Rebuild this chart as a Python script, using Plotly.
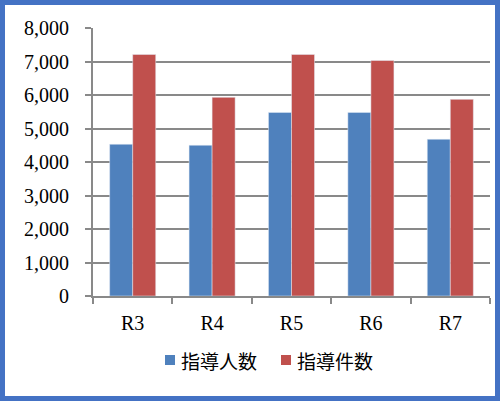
import plotly.graph_objects as go

# data
years = ["R3", "R4", "R5", "R6", "R7"]
people = [4530, 4500, 5480, 5480, 4680]
cases = [7210, 5930, 7210, 7030, 5870]
names = ["指導人数", "指導件数"]
colors = ["#4F81BD", "#C0504D"]

fig = go.Figure()
fig.add_trace(go.Bar(x=years, y=people, name=names[0], marker=dict(color=colors[0])))
fig.add_trace(go.Bar(x=years, y=cases, name=names[1], marker=dict(color=colors[1])))

# plot area: x 93..490, y 28..296 (px)
L, R, T, B = 93, 490, 28, 296
W, H = R - L, B - T

def px_x(p):
    return (p - L) / W

def px_y(p):
    return (B - p) / H

# border round the whole chart
shapes = [dict(
    type="rect", xref="paper", yref="paper",
    x0=px_x(2.5), x1=px_x(497.5), y0=px_y(398.5), y1=px_y(2.5),
    line=dict(color="#4472C4", width=5),
    layer="above",
)]
annotations = []

# hand-made legend
for sq_x, name, col in zip([165, 281], names, colors):
    shapes.append(dict(
        type="rect", xref="paper", yref="paper",
        x0=px_x(sq_x), x1=px_x(sq_x + 10), y0=px_y(365), y1=px_y(355),
        line=dict(width=0), fillcolor=col,
    ))
    annotations.append(dict(
        xref="paper", yref="paper", x=px_x(sq_x + 14), y=px_y(360),
        xanchor="left", yanchor="middle", text=name, showarrow=False,
        font=dict(family="Noto Sans CJK JP", size=19, color="black"),
    ))

fig.update_layout(
    width=500, height=401,
    margin=dict(l=L, r=500 - R, t=T, b=401 - B),
    paper_bgcolor="white",
    plot_bgcolor="white",
    barmode="group",
    bargap=0.42,
    bargroupgap=0,
    showlegend=False,
    font=dict(family="Liberation Serif", size=20, color="black"),
    xaxis=dict(
        showline=True, linecolor="#898989", linewidth=2,
        ticks="outside", tickson="boundaries", ticklen=6, tickcolor="#898989", tickwidth=2,
        ticklabelstandoff=8,
        showgrid=False,
    ),
    yaxis=dict(
        range=[0, 8000], dtick=1000, tickformat=",d",
        showline=True, linecolor="#898989", linewidth=2,
        ticks="outside", ticklen=6, tickcolor="#898989", tickwidth=2,
        showgrid=True, gridcolor="#898989", gridwidth=2,
        ticklabelstandoff=12,
        zeroline=False,
    ),
    shapes=shapes,
    annotations=annotations,
)

fig.write_html("out.html", config={"displayModeBar": False},
               post_script="document.body.style.margin='0';")
